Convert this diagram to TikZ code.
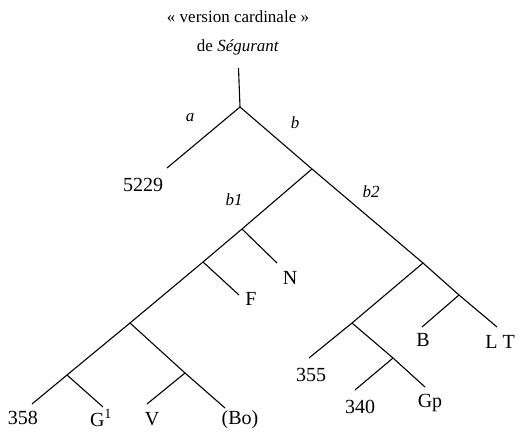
\documentclass[tikz,border=0pt]{standalone}
\usepackage{fontspec}
\setmainfont{Liberation Serif}
\usetikzlibrary{positioning}

\begin{document}
\begin{tikzpicture}[
        x=1pt, y=-1pt,
        e/.style={line width=1.1pt},
        lf/.style={font=\fontsize{20}{22}\selectfont, inner sep=0pt},
        br/.style={font=\fontsize{17}{19}\selectfont\itshape, inner sep=0pt},
        ttl/.style={font=\fontsize{17}{19}\selectfont, inner sep=0pt}
    ]
        \useasboundingbox (0,0) rectangle (519,434);

        \node[ttl] (t1) at (238,17) {« version cardinale »};
        \node[ttl] (t2) at (238,47) {de \textit{Ségurant}};

        % junctions
        \coordinate (top) at (238.5,68);
        \coordinate (r)   at (240,107);
        \coordinate (jb)  at (312,169);
        \coordinate (jn)  at (242,229);
        \coordinate (jf)  at (203,262);
        \coordinate (jl)  at (130,323);
        \coordinate (jg)  at (67,375);
        \coordinate (jv)  at (185,373);
        \coordinate (jb2) at (423,263);
        \coordinate (jbb) at (459,295);
        \coordinate (j3)  at (352,323);
        \coordinate (j4)  at (393,358);

        % leaf ends
        \coordinate (e5229) at (167,168);
        \coordinate (e358)  at (32,404);
        \coordinate (eG)    at (103,407);
        \coordinate (eV)    at (147,404);
        \coordinate (eBo)   at (225,408);
        \coordinate (eF)    at (239,295);
        \coordinate (eN)    at (277,263);
        \coordinate (e355)  at (309,358);
        \coordinate (e340)  at (355,390);
        \coordinate (eGp)   at (425,387);
        \coordinate (eB)    at (422,327);
        \coordinate (eLT)   at (497,327);

        \node[lf] (n5229) at (143,185) {5229};
        \node[lf] (n358)  at (23,418)  {358};
        \node[lf] (nG)    at (101,418) {G\textsuperscript{1}};
        \node[lf] (nV)    at (152,419) {V};
        \node[lf] (nBo)   at (240,420) {(Bo)};
        \node[lf] (nF)    at (251,299) {F};
        \node[lf] (nN)    at (290,278) {N};
        \node[lf] (n355)  at (311,375) {355};
        \node[lf] (n340)  at (360,407) {340};
        \node[lf] (nGp)   at (430,403) {Gp};
        \node[lf] (nB)    at (423,340) {B};
        \node[lf] (nLT)   at (500,342) {L T};

        \node[br] (la)  at (190,118) {a};
        \node[br] (lb)  at (295,123) {b};
        \node[br] (lb1) at (234,200) {b1};
        \node[br] (lb2) at (371,192) {b2};

        \draw[e] (top) -- (r);
        \draw[e] (r) -- (e5229);
        \draw[e] (r) -- (jb) -- (jb2) -- (jbb) -- (eLT);
        \draw[e] (jb) -- (jn) -- (jf) -- (jl) -- (jg) -- (e358);
        \draw[e] (jn) -- (eN);
        \draw[e] (jf) -- (eF);
        \draw[e] (jg) -- (eG);
        \draw[e] (jl) -- (jv) -- (eBo);
        \draw[e] (jv) -- (eV);
        \draw[e] (jb2) -- (j3) -- (e355);
        \draw[e] (j3) -- (j4) -- (eGp);
        \draw[e] (j4) -- (e340);
        \draw[e] (jbb) -- (eB);
    \end{tikzpicture}
\end{document}
